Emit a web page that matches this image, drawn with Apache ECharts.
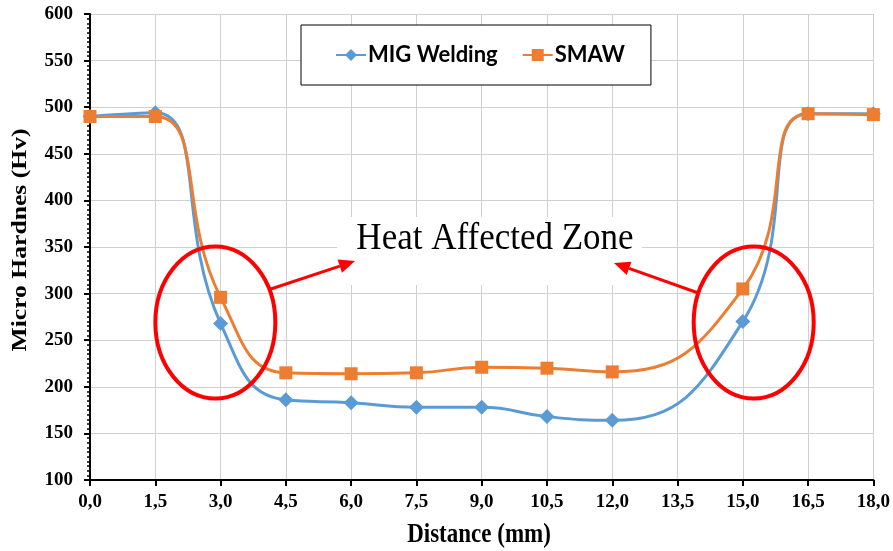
<!DOCTYPE html>
<html>
<head>
<meta charset="utf-8">
<script src="https://cdn.jsdelivr.net/npm/echarts@6/dist/echarts.min.js"></script>
<style>
  html, body { margin: 0; padding: 0; background: #fff; }
  #chart { width: 893px; height: 551px; }
</style>
</head>
<body>
<div id="chart"></div>
<script>
// distance (mm) and hardness values
const distance = [0, 1.5, 3, 4.5, 6, 7.5, 9, 10.5, 12, 15, 16.5, 18];
const migWelding = [490, 494, 268, 186, 183, 178, 178, 168, 164, 270, 493, 493];
const smaw = [490, 490, 296, 215, 214, 215, 221, 220, 216, 305, 493, 492];

const seriesNames = ['MIG Welding', 'SMAW'];
const xTitle = 'Distance (mm)';
const yTitle = 'Micro Hardnes (Hv)';
const annotationText = 'Heat Affected Zone';

const chart = echarts.init(document.getElementById('chart'));

const axisFont = { fontFamily: 'Liberation Serif', fontWeight: 'bold', fontSize: 19, color: '#000' };

const option = {
  backgroundColor: '#fff',
  animation: false,
  grid: { left: 90, right: 18, top: 14, bottom: 71 },
  legend: {
    data: seriesNames,
    top: 25,
    left: 301,
    padding: [19, 26, 19, 34],
    itemGap: 24,
    itemWidth: 30,
    itemHeight: 15,
    borderColor: '#000',
    borderWidth: 1,
    backgroundColor: '#fff',
    textStyle: { fontFamily: 'Lato', fontWeight: 'bold', fontSize: 22, color: '#000', padding: [0, 0, 0, -3] }
  },
  xAxis: {
    type: 'value',
    min: 0,
    max: 18,
    interval: 1.5,
    axisLine: { lineStyle: { color: '#000', width: 2 } },
    axisTick: { show: true, length: 6, lineStyle: { color: '#000', width: 2 } },
    axisLabel: Object.assign({ margin: 13, formatter: v => v.toFixed(1).replace('.', ',') }, axisFont),
    splitLine: { show: true, lineStyle: { color: '#d0d0d0', width: 1 } }
  },
  yAxis: {
    type: 'value',
    min: 100,
    max: 600,
    interval: 50,
    axisLine: { show: true, lineStyle: { color: '#000', width: 2 } },
    axisTick: { show: true, length: 6, lineStyle: { color: '#000', width: 2 } },
    minorTick: { show: true, splitNumber: 10, length: 3, lineStyle: { color: '#000', width: 1.5 } },
    axisLabel: Object.assign({ margin: 17 }, axisFont),
    splitLine: { show: true, lineStyle: { color: '#d0d0d0', width: 1 } }
  },
  series: [
    {
      name: seriesNames[0],
      type: 'line',
      smooth: 0.5,
      symbol: 'diamond',
      symbolSize: 15,
      itemStyle: { color: '#5b9bd5' },
      lineStyle: { width: 3, color: '#5b9bd5' },
      data: distance.map((d, i) => [d, migWelding[i]])
    },
    {
      name: seriesNames[1],
      type: 'line',
      smooth: 0.5,
      symbol: 'rect',
      symbolSize: 13,
      itemStyle: { color: '#ed7d31' },
      lineStyle: { width: 3, color: '#ed7d31' },
      data: distance.map((d, i) => [d, smaw[i]])
    }
  ]
};

chart.setOption(option);

// annotations: ellipses around the HAZ points, arrows pointing at the label
const px = p => chart.convertToPixel({ gridIndex: 0 }, p);
const leftC = px([2.88, 269]);
const rightC = px([15.25, 269]);
const label = px([9.3, 350]);

function arrow(from, to) {
  const ang = Math.atan2(to[1] - from[1], to[0] - from[0]);
  const L = 16, W = 7;
  const bx = to[0] - L * Math.cos(ang), by = to[1] - L * Math.sin(ang);
  const nx = -Math.sin(ang) * W, ny = Math.cos(ang) * W;
  return [
    { type: 'line', shape: { x1: from[0], y1: from[1], x2: bx, y2: by }, style: { stroke: '#ff0000', lineWidth: 3 }, z: 110 },
    { type: 'polygon', shape: { points: [to, [bx + nx, by + ny], [bx - nx, by - ny]] }, style: { fill: '#ff0000' }, z: 110 }
  ];
}

chart.setOption({
  graphic: [
    { type: 'rect', shape: { x: 337, y: label[1] - 30, width: 305, height: 68 }, style: { fill: '#fff' }, z: 100 },
    { type: 'text', x: 495, y: label[1] - 8, scaleY: 1.08, style: { text: annotationText, font: '35px "Liberation Serif"', fill: '#000', align: 'center', verticalAlign: 'middle' }, z: 101 },
    { type: 'ellipse', shape: { cx: leftC[0], cy: leftC[1], rx: 60, ry: 76 }, style: { fill: 'none', stroke: '#ff0000', lineWidth: 4 }, z: 110 },
    { type: 'ellipse', shape: { cx: rightC[0], cy: rightC[1], rx: 60, ry: 76 }, style: { fill: 'none', stroke: '#ff0000', lineWidth: 4 }, z: 110 },
    ...arrow([leftC[0] + 54, leftC[1] - 33], [355, label[1] + 14]),
    ...arrow([rightC[0] - 54, rightC[1] - 29], [614, label[1] + 16]),
    // axis titles (the figure's text is stretched vertically)
    { type: 'text', x: 479, y: 535, scaleY: 1.15, style: { text: xTitle, font: 'bold 23px "Liberation Serif"', fill: '#000', align: 'center', verticalAlign: 'middle' } },
    { type: 'text', x: 21, y: 240, rotation: Math.PI / 2, scaleX: 1.22, style: { text: yTitle, font: 'bold 21px "Liberation Serif"', fill: '#000', align: 'center', verticalAlign: 'middle' } }
  ]
});
</script>
</body>
</html>
